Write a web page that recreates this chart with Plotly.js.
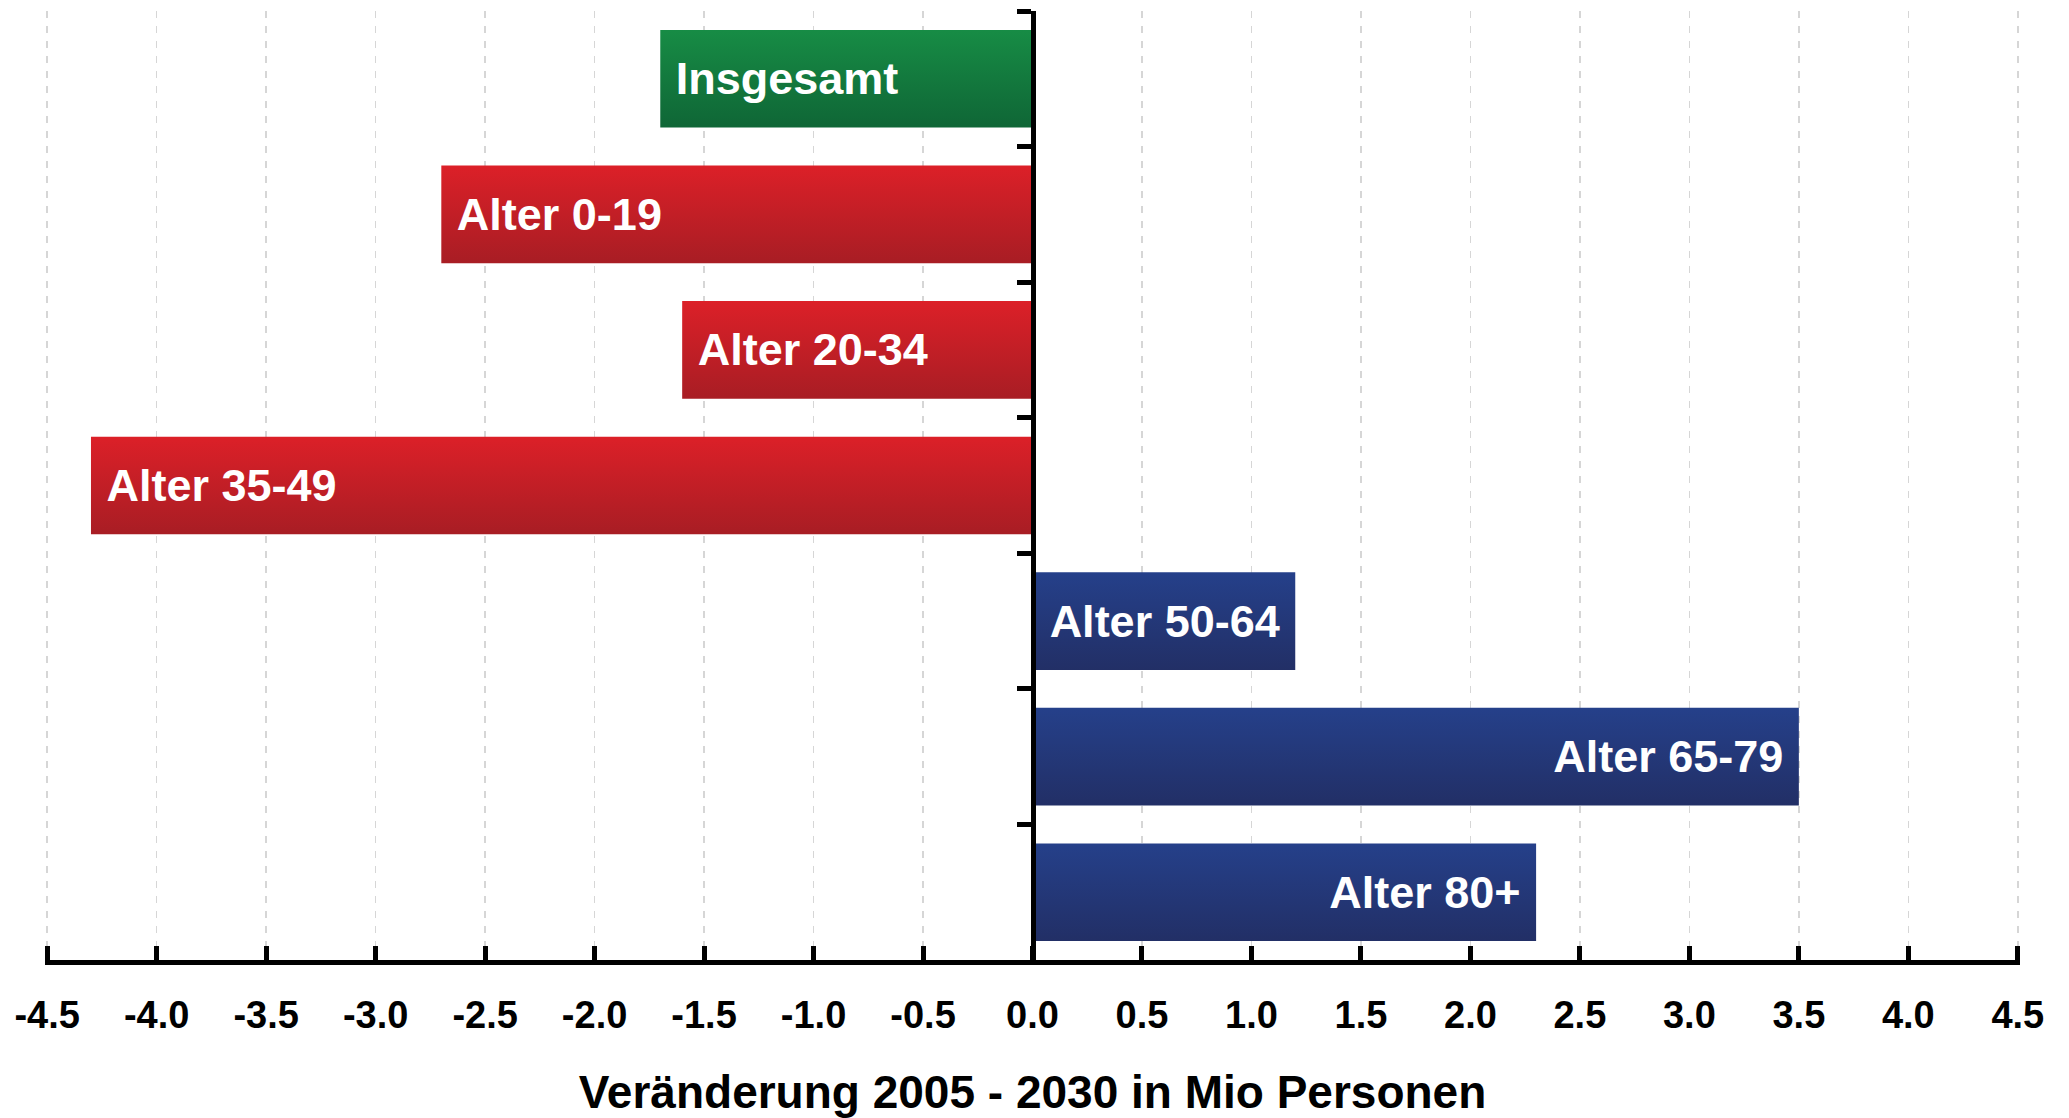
<!DOCTYPE html>
<html>
<head>
<meta charset="utf-8">
<script src="https://cdn.plot.ly/plotly-3.0.1.min.js"></script>
<style>
  html, body { margin: 0; padding: 0; background: #ffffff; }
  #chart { width: 2069px; height: 1118px; }
</style>
</head>
<body>
<div id="chart"></div>
<script>
// ---- data ----
const categories = ["Insgesamt", "Alter 0-19", "Alter 20-34", "Alter 35-49", "Alter 50-64", "Alter 65-79", "Alter 80+"];
const changeMio = [-1.7, -2.7, -1.6, -4.3, 1.2, 3.5, 2.3];
const tickValues = [-4.5, -4.0, -3.5, -3.0, -2.5, -2.0, -1.5, -1.0, -0.5, 0.0, 0.5, 1.0, 1.5, 2.0, 2.5, 3.0, 3.5, 4.0, 4.5];
const xTitle = "Veränderung 2005 - 2030 in Mio Personen";

// ---- styles ----
const FONT = "Liberation Sans, Arial, Helvetica, sans-serif";
const GREEN = "#147c3e", RED = "#c4202a", BLUE = "#243a7a";
const barColors = changeMio.map((v, i) => i === 0 ? GREEN : (v < 0 ? RED : BLUE));
const gradKey = changeMio.map((v, i) => i === 0 ? "gGreen" : (v < 0 ? "gRed" : "gBlue"));
const NBSP = "\u00a0";
const barText = categories.map((c, i) => changeMio[i] < 0 ? NBSP + c : c + NBSP);

const trace = {
  type: "bar",
  orientation: "h",
  y: categories,
  x: changeMio,
  text: barText,
  textposition: "inside",
  insidetextanchor: "end",
  textangle: 0,
  constraintext: "none",
  insidetextfont: { family: FONT, size: 45, color: "#ffffff", weight: "bold" },
  marker: { color: barColors, line: { width: 0 } },
  hoverinfo: "x+y",
  cliponaxis: false
};

const layout = {
  width: 2069,
  height: 1118,
  margin: { l: 45, r: 49, t: 11, b: 158 },
  paper_bgcolor: "#ffffff",
  plot_bgcolor: "#ffffff",
  showlegend: false,
  bargap: 0.28,
  font: { family: FONT, color: "#000000" },
  xaxis: {
    range: [-4.51, 4.51],
    tickmode: "array",
    tickvals: tickValues,
    ticktext: tickValues.map(v => v.toFixed(1)),
    ticks: "inside",
    ticklen: 14,
    tickwidth: 5,
    tickcolor: "#000000",
    showline: true,
    linewidth: 5,
    linecolor: "#000000",
    showgrid: true,
    gridcolor: "#d6d6d6",
    gridwidth: 1.5,
    griddash: "7px,8px",
    zeroline: false,
    tickfont: { family: FONT, size: 38, color: "#000000", weight: "bold" },
    ticklabelstandoff: 17,
    title: { text: xTitle, font: { family: FONT, size: 46, color: "#000000", weight: "bold" }, standoff: 61 },
    fixedrange: true
  },
  yaxis: {
    type: "category",
    autorange: "reversed",
    anchor: "free",
    position: 0.5,
    showline: true,
    linewidth: 5,
    linecolor: "#000000",
    ticks: "outside",
    tickson: "boundaries",
    ticklen: 14,
    tickwidth: 5,
    tickcolor: "#000000",
    showticklabels: false,
    showgrid: false,
    zeroline: false,
    fixedrange: true
  }
};

function applyGradients(gd) {
  const svg = gd.querySelector("svg.main-svg");
  if (!svg) return;
  let defs = svg.querySelector("defs");
  if (!defs) { defs = document.createElementNS("http://www.w3.org/2000/svg", "defs"); svg.insertBefore(defs, svg.firstChild); }
  const grads = { gGreen: ["#178c45", "#0f6636"], gRed: ["#dc2028", "#a81d24"], gBlue: ["#25408a", "#222f66"] };
  Object.keys(grads).forEach(id => {
    if (svg.querySelector("#" + id)) return;
    const lg = document.createElementNS("http://www.w3.org/2000/svg", "linearGradient");
    lg.setAttribute("id", id); lg.setAttribute("x1", "0"); lg.setAttribute("y1", "0"); lg.setAttribute("x2", "0"); lg.setAttribute("y2", "1");
    [[0, grads[id][0]], [1, grads[id][1]]].forEach(([o, c]) => {
      const s = document.createElementNS("http://www.w3.org/2000/svg", "stop");
      s.setAttribute("offset", o); s.setAttribute("stop-color", c);
      lg.appendChild(s);
    });
    defs.appendChild(lg);
  });
  const paths = gd.querySelectorAll(".barlayer .point path");
  paths.forEach((p, i) => { if (gradKey[i]) p.style.fill = "url(#" + gradKey[i] + ")"; });
}

const gd = document.getElementById("chart");
Plotly.newPlot(gd, [trace], layout, { displayModeBar: false, staticPlot: true }).then(applyGradients);
</script>
</body>
</html>
